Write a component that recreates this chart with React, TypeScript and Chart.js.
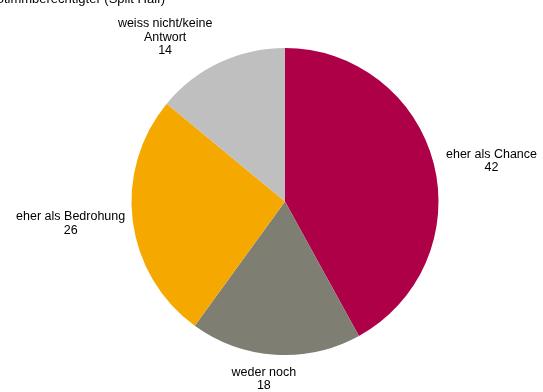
import React, { useEffect, useRef } from "react";
import { Chart, registerables } from "chart.js";

Chart.register(...registerables);

const titleText = "Stimmberechtigter (Split Half)";
const categories = ["eher als Chance", "weder noch", "eher als Bedrohung", "weiss nicht/keine Antwort"];
const labelLines = [["eher als Chance"], ["weder noch"], ["eher als Bedrohung"], ["weiss nicht/keine", "Antwort"]];
const values = [42, 18, 26, 14];
const colors = ["#AD0047", "#7E7E72", "#F5A800", "#BFBFBF"];

const FONT = "12.5px 'Liberation Sans', Arial, sans-serif";
const TITLE_FONT = "13px 'Liberation Sans', Arial, sans-serif";

const outsideLabels = {
  id: "outsideLabels",
  afterDatasetsDraw(chart: any, _args: any, opts: any) {
    const ctx = chart.ctx;
    const meta = chart.getDatasetMeta(0);
    const nudges = opts.nudges || [];
    ctx.save();
    ctx.font = FONT;
    ctx.fillStyle = "#000";
    ctx.textAlign = "center";
    ctx.textBaseline = "middle";
    const lh = 13.5;
    meta.data.forEach((arc: any, i: number) => {
      const { x, y, startAngle, endAngle, outerRadius } = arc.getProps(
        ["x", "y", "startAngle", "endAngle", "outerRadius"],
        true
      );
      const mid = (startAngle + endAngle) / 2;
      const dx = Math.cos(mid);
      const dy = Math.sin(mid);
      const lines = [...labelLines[i], String(values[i])];
      const w = Math.max(...lines.map((l: string) => ctx.measureText(l).width));
      const h = lines.length * lh;
      const ax = x + (outerRadius + 8) * dx;
      const ay = y + (outerRadius + 8) * dy;
      const n = nudges[i] || [0, 0];
      const cx = ax + (dx * w) / 2 + n[0];
      const cy = ay + (dy * h) / 2 + n[1];
      lines.forEach((l: string, k: number) => {
        ctx.fillText(l, cx, cy - h / 2 + lh / 2 + k * lh);
      });
    });
    // clipped title at top
    ctx.font = TITLE_FONT;
    ctx.textAlign = "right";
    ctx.textBaseline = "alphabetic";
    ctx.fillText(titleText, 165, 3);
    ctx.restore();
  },
};

export default function App() {
  const ref = useRef<HTMLCanvasElement>(null);
  useEffect(() => {
    const chart = new Chart(ref.current!, {
      type: "pie",
      data: {
        labels: categories,
        datasets: [
          {
            data: values,
            backgroundColor: colors,
            borderWidth: 0,
          },
        ],
      },
      options: {
        animation: false,
        responsive: false,
        maintainAspectRatio: false,
        layout: { padding: { top: 48, bottom: 37, left: 131.5, right: 104.5 } },
        plugins: {
          legend: { display: false },
          tooltip: { enabled: false },
          outsideLabels: {
            nudges: [
              [6, 3],
              [-9, 3],
              [0, 0],
              [-31, 0],
            ],
          },
        } as any,
      },
      plugins: [outsideLabels],
    });
    return () => chart.destroy();
  }, []);
  return (
    <div style={{ position: "absolute", left: 0, top: 0, width: 543, height: 392, background: "#fff" }}>
      <canvas ref={ref} width={543} height={392} style={{ width: 543, height: 392 }} />
    </div>
  );
}
